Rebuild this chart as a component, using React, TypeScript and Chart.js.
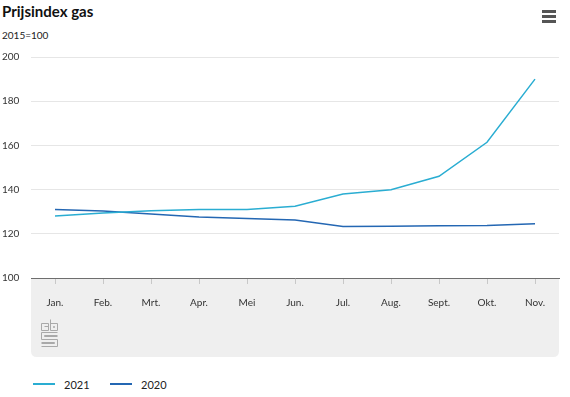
import React, { useEffect, useRef } from "react";
import { Chart, registerables } from "chart.js";

Chart.register(...registerables);

const TITLE = "Prijsindex gas";
const SUBTITLE = "2015=100";
const MONTHS = ["Jan.", "Feb.", "Mrt.", "Apr.", "Mei", "Jun.", "Jul.", "Aug.", "Sept.", "Okt.", "Nov."];
const SERIES_2021 = [128.0, 129.4, 130.4, 131.0, 131.0, 132.5, 138.0, 139.9, 146.0, 161.4, 190.0];
const SERIES_2020 = [131.0, 130.3, 129.0, 127.6, 126.9, 126.2, 123.3, 123.4, 123.6, 123.7, 124.5];
const LABEL_2021 = "2021";
const LABEL_2020 = "2020";
const COLOR_2021 = "#2aadd2";
const COLOR_2020 = "#2467b3";
const FONT = "Lato, 'Noto Sans', sans-serif";

const bgPlugin = {
  id: "greyBox",
  beforeDraw(chart: any) {
    const { ctx, chartArea } = chart;
    const l = chartArea.left;
    const r = chartArea.right;
    const t = chartArea.bottom;
    const b = chartArea.bottom + 79;
    const rad = 6;
    ctx.save();
    ctx.fillStyle = "#efefef";
    ctx.beginPath();
    ctx.moveTo(l, t);
    ctx.lineTo(r, t);
    ctx.lineTo(r, b - rad);
    ctx.quadraticCurveTo(r, b, r - rad, b);
    ctx.lineTo(l + rad, b);
    ctx.quadraticCurveTo(l, b, l, b - rad);
    ctx.closePath();
    ctx.fill();
    // CBS-like logo
    const x0 = l + 10;
    const y0 = t + 41;
    ctx.strokeStyle = "#a9a9a9";
    ctx.lineWidth = 1;
    ctx.beginPath();
    // c
    ctx.rect(x0 + 0.5, y0 + 4.5, 7, 7);
    ctx.moveTo(x0 + 3.5, y0 + 7.5);
    ctx.lineTo(x0 + 7.5, y0 + 7.5);
    ctx.lineTo(x0 + 7.5, y0 + 8.5);
    // b
    ctx.moveTo(x0 + 9.5, y0 + 0.5);
    ctx.lineTo(x0 + 9.5, y0 + 11.5);
    ctx.lineTo(x0 + 16.5, y0 + 11.5);
    ctx.lineTo(x0 + 16.5, y0 + 4.5);
    ctx.lineTo(x0 + 9.5, y0 + 4.5);
    ctx.rect(x0 + 12.5, y0 + 7.5, 1, 1);
    // S
    ctx.moveTo(x0 + 16.5, y0 + 13.5);
    ctx.lineTo(x0 + 0.5, y0 + 13.5);
    ctx.lineTo(x0 + 0.5, y0 + 20.5);
    ctx.lineTo(x0 + 16.5, y0 + 20.5);
    ctx.lineTo(x0 + 16.5, y0 + 27.5);
    ctx.lineTo(x0 + 0.5, y0 + 27.5);
    ctx.moveTo(x0 + 16.5, y0 + 16.5);
    ctx.lineTo(x0 + 3.5, y0 + 16.5);
    ctx.lineTo(x0 + 3.5, y0 + 17.5);
    ctx.lineTo(x0 + 16.5, y0 + 17.5);
    ctx.moveTo(x0 + 0.5, y0 + 23.5);
    ctx.lineTo(x0 + 13.5, y0 + 23.5);
    ctx.lineTo(x0 + 13.5, y0 + 24.5);
    ctx.lineTo(x0 + 0.5, y0 + 24.5);
    ctx.stroke();
    ctx.restore();
  },
};

function ChartCanvas() {
  const ref = useRef<HTMLCanvasElement | null>(null);
  useEffect(() => {
    if (!ref.current) return;
    const chart = new Chart(ref.current, {
      type: "line",
      data: {
        labels: MONTHS,
        datasets: [
          {
            label: LABEL_2021,
            data: SERIES_2021,
            borderColor: COLOR_2021,
            backgroundColor: COLOR_2021,
            borderWidth: 1.5,
            pointRadius: 0,
            tension: 0,
          },
          {
            label: LABEL_2020,
            data: SERIES_2020,
            borderColor: COLOR_2020,
            backgroundColor: COLOR_2020,
            borderWidth: 1.5,
            pointRadius: 0,
            tension: 0,
          },
        ],
      },
      options: {
        responsive: false,
        animation: false,
        devicePixelRatio: 1,
        layout: { padding: { left: 2, right: 11, top: 17, bottom: 0 } },
        plugins: {
          legend: { display: false },
          tooltip: { enabled: false },
          title: { display: false },
        },
        scales: {
          x: {
            offset: true,
            grid: {
              display: true,
              drawOnChartArea: false,
              drawTicks: true,
              tickLength: 6,
              color: "#c8c8c8",
            },
            border: { display: true, color: "#6e6e6e", width: 1 },
            ticks: {
              color: "#333",
              font: { family: FONT, size: 10 },
              padding: 13,
              maxRotation: 0,
              autoSkip: false,
            },
            afterFit(scale: any) {
              scale.height = 82;
            },
          },
          y: {
            min: 100,
            max: 200,
            grid: { color: "#e6e6e6", drawTicks: false, lineWidth: 1 },
            border: { display: false },
            ticks: {
              stepSize: 20,
              color: "#333",
              crossAlign: "far",
              font: { family: FONT, size: 10 },
            },
            afterFit(scale: any) {
              scale.width = 29;
            },
          },
        },
      },
      plugins: [bgPlugin],
    });
    return () => chart.destroy();
  }, []);
  return (
    <canvas
      ref={ref}
      width={570}
      height={320}
      style={{ position: "absolute", left: 0, top: 40, width: 570, height: 320 }}
    />
  );
}

export default function App() {
  const bar = { position: "absolute" as const, left: 542, width: 14, height: 2.5, background: "#555" };
  const legendItem = (x: number, color: string, label: string) => (
    <div style={{ position: "absolute", left: x, top: 377, height: 14, display: "flex", alignItems: "center" }}>
      <div style={{ width: 22, height: 2, background: color }} />
      <span style={{ marginLeft: 9, fontFamily: FONT, fontSize: 11, color: "#222" }}>{label}</span>
    </div>
  );
  return (
    <div style={{ position: "absolute", left: 0, top: 0, width: 570, height: 397, background: "#fff", overflow: "hidden" }}>
      <div style={{ position: "absolute", left: 2, top: 1, fontFamily: FONT, fontWeight: 700, fontSize: 15, color: "#111", lineHeight: "20px" }}>
        {TITLE}
      </div>
      <div style={{ position: "absolute", left: 2, top: 28, fontFamily: FONT, fontSize: 10, color: "#222", lineHeight: "14px" }}>
        {SUBTITLE}
      </div>
      <div style={{ ...bar, top: 10 }} />
      <div style={{ ...bar, top: 15 }} />
      <div style={{ ...bar, top: 20 }} />
      <ChartCanvas />
      {legendItem(33, COLOR_2021, LABEL_2021)}
      {legendItem(110, COLOR_2020, LABEL_2020)}
    </div>
  );
}
